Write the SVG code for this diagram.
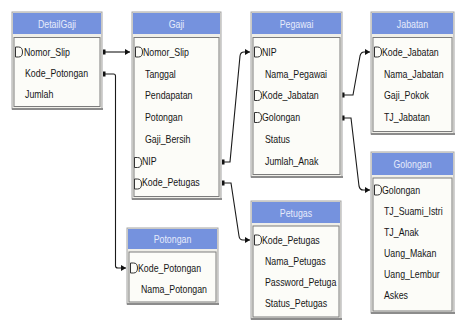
<svg xmlns="http://www.w3.org/2000/svg" xmlns:xlink="http://www.w3.org/1999/xlink" width="457" height="325" viewBox="0 0 457 325">
<style>
text{font-family:"Liberation Sans",Arial,sans-serif;font-size:11px;fill:#161616}
.tt{fill:#e6ebfb;text-anchor:middle}
.frame{fill:#efeee8;stroke:#a3a3a3;stroke-width:1}
.shadow{stroke:#8c8c8c;stroke-width:2}
.bar{fill:#7592de}
.inner{fill:#fcfcf8;stroke:#7c7c7c;stroke-width:1}
.c{fill:none;stroke:#1a1a1a;stroke-width:1.1}
.key{fill:none;stroke:#333;stroke-width:1}
</style>
<defs>
<path id="k" class="key" d="M0,0 h3 q4,0 4,5 q0,5 -4,5 h-3 z"/>
<marker id="ar" markerWidth="6" markerHeight="6" refX="5" refY="3" orient="auto" markerUnits="userSpaceOnUse"><path d="M0,0 L5,3 L0,6 z" fill="#111"/></marker>
<marker id="dt" markerWidth="4" markerHeight="6" refX="1.5" refY="3" orient="auto" markerUnits="userSpaceOnUse"><rect x="0" y="0.5" width="3" height="5" fill="#111"/></marker>
</defs>
<rect width="457" height="325" fill="#ffffff"/>

<g id="connectors">
<path class="c" marker-start="url(#dt)" marker-end="url(#ar)" d="M104,52 H130"/>
<path class="c" marker-start="url(#dt)" marker-end="url(#ar)" d="M104,74 H113.5 Q115.5,74 115.5,76 V266 Q115.5,268 118,268 H126"/>
<path class="c" marker-start="url(#dt)" marker-end="url(#ar)" d="M223,162 H230 L240,56 Q240.5,52 244,52 H250"/>
<path class="c" marker-start="url(#dt)" marker-end="url(#ar)" d="M223,183 H231 L239,236 Q239.5,240 243,240 H250"/>
<path class="c" marker-start="url(#dt)" marker-end="url(#ar)" d="M343,95 H353 L360,56 Q361,52 364,52 H370"/>
<path class="c" marker-start="url(#dt)" marker-end="url(#ar)" d="M343,118 H351 L359,186 Q360,190 363,190 H370"/>
</g>

<g id="DetailGaji">
<rect class="frame" x="12" y="12" width="90" height="97"/>
<line class="shadow" x1="12" y1="109" x2="103" y2="109"/>
<rect class="bar" x="13" y="13" width="88" height="21"/>
<text class="tt" transform="matrix(0.8,0,0,1,57,27.5)">DetailGaji</text>
<rect class="inner" x="14" y="37.5" width="86" height="69"/>
<use xlink:href="#k" x="15.5" y="47"/>
<text transform="matrix(0.8,0,0,1,24,56)">Nomor_Slip</text>
<text transform="matrix(0.8,0,0,1,25,77)">Kode_Potongan</text>
<text transform="matrix(0.8,0,0,1,25,98)">Jumlah</text>
</g>

<g id="Gaji">
<rect class="frame" x="132" y="12" width="89" height="187"/>
<line class="shadow" x1="132" y1="199" x2="222" y2="199"/>
<rect class="bar" x="133" y="13" width="87" height="21"/>
<text class="tt" transform="matrix(0.8,0,0,1,176.5,27.5)">Gaji</text>
<rect class="inner" x="134" y="37.5" width="85" height="159"/>
<use xlink:href="#k" x="135.5" y="47"/>
<text transform="matrix(0.8,0,0,1,143,56)">Nomor_Slip</text>
<text transform="matrix(0.8,0,0,1,145,77.7)">Tanggal</text>
<text transform="matrix(0.8,0,0,1,145,99.4)">Pendapatan</text>
<text transform="matrix(0.8,0,0,1,145,121.1)">Potongan</text>
<text transform="matrix(0.8,0,0,1,145,142.8)">Gaji_Bersih</text>
<use xlink:href="#k" x="134.5" y="157.5"/>
<text transform="matrix(0.8,0,0,1,142,164.5)">NIP</text>
<use xlink:href="#k" x="134.5" y="179"/>
<text transform="matrix(0.8,0,0,1,142,186.2)">Kode_Petugas</text>
</g>

<g id="Pegawai">
<rect class="frame" x="251" y="12" width="91" height="165"/>
<line class="shadow" x1="251" y1="177" x2="343" y2="177"/>
<rect class="bar" x="252" y="13" width="89" height="21"/>
<text class="tt" transform="matrix(0.8,0,0,1,296.5,27.5)">Pegawai</text>
<rect class="inner" x="253" y="37.5" width="87" height="137"/>
<use xlink:href="#k" x="254.5" y="47"/>
<text transform="matrix(0.8,0,0,1,262,56)">NIP</text>
<text transform="matrix(0.8,0,0,1,265,77.7)">Nama_Pegawai</text>
<use xlink:href="#k" x="254.5" y="90.5"/>
<text transform="matrix(0.8,0,0,1,262,99.4)">Kode_Jabatan</text>
<use xlink:href="#k" x="254.5" y="112.5"/>
<text transform="matrix(0.8,0,0,1,262,121.1)">Golongan</text>
<text transform="matrix(0.8,0,0,1,265,142.8)">Status</text>
<text transform="matrix(0.8,0,0,1,265,164.5)">Jumlah_Anak</text>
</g>

<g id="Jabatan">
<rect class="frame" x="371" y="12" width="83" height="122"/>
<line class="shadow" x1="371" y1="134" x2="455" y2="134"/>
<rect class="bar" x="372" y="13" width="81" height="21"/>
<text class="tt" transform="matrix(0.8,0,0,1,412.5,27.5)">Jabatan</text>
<rect class="inner" x="373" y="37.5" width="79" height="94"/>
<use xlink:href="#k" x="374.5" y="47"/>
<text transform="matrix(0.8,0,0,1,382,56)">Kode_Jabatan</text>
<text transform="matrix(0.8,0,0,1,384,77.7)">Nama_Jabatan</text>
<text transform="matrix(0.8,0,0,1,384,99.4)">Gaji_Pokok</text>
<text transform="matrix(0.8,0,0,1,384,121.1)">TJ_Jabatan</text>
</g>

<g id="Golongan">
<rect class="frame" x="371" y="152" width="83" height="161"/>
<line class="shadow" x1="371" y1="313" x2="455" y2="313"/>
<rect class="bar" x="372" y="153" width="81" height="22"/>
<text class="tt" transform="matrix(0.8,0,0,1,412.5,168)">Golongan</text>
<rect class="inner" x="373" y="178" width="79" height="133"/>
<use xlink:href="#k" x="374.5" y="185"/>
<text transform="matrix(0.8,0,0,1,382,194)">Golongan</text>
<text transform="matrix(0.8,0,0,1,384,215)">TJ_Suami_Istri</text>
<text transform="matrix(0.8,0,0,1,384,236)">TJ_Anak</text>
<text transform="matrix(0.8,0,0,1,384,257)">Uang_Makan</text>
<text transform="matrix(0.8,0,0,1,384,278)">Uang_Lembur</text>
<text transform="matrix(0.8,0,0,1,384,299)">Askes</text>
</g>

<g id="Potongan">
<rect class="frame" x="127" y="228" width="91" height="76"/>
<line class="shadow" x1="127" y1="304" x2="219" y2="304"/>
<rect class="bar" x="128" y="229" width="89" height="20"/>
<text class="tt" transform="matrix(0.8,0,0,1,172.5,243)">Potongan</text>
<rect class="inner" x="129" y="252" width="87" height="50"/>
<use xlink:href="#k" x="130.5" y="263"/>
<text transform="matrix(0.8,0,0,1,138,272)">Kode_Potongan</text>
<text transform="matrix(0.8,0,0,1,141,293)">Nama_Potongan</text>
</g>

<g id="Petugas">
<rect class="frame" x="251" y="201" width="90" height="118"/>
<line class="shadow" x1="251" y1="319" x2="342" y2="319"/>
<rect class="bar" x="252" y="202" width="88" height="21"/>
<text class="tt" transform="matrix(0.8,0,0,1,296,216.5)">Petugas</text>
<rect class="inner" x="253" y="226" width="86" height="91"/>
<use xlink:href="#k" x="254.5" y="235"/>
<text transform="matrix(0.8,0,0,1,262,244)">Kode_Petugas</text>
<text transform="matrix(0.8,0,0,1,265,265)">Nama_Petugas</text>
<text transform="matrix(0.8,0,0,1,265,286)">Password_Petuga</text>
<text transform="matrix(0.8,0,0,1,265,307)">Status_Petugas</text>
</g>
</svg>
